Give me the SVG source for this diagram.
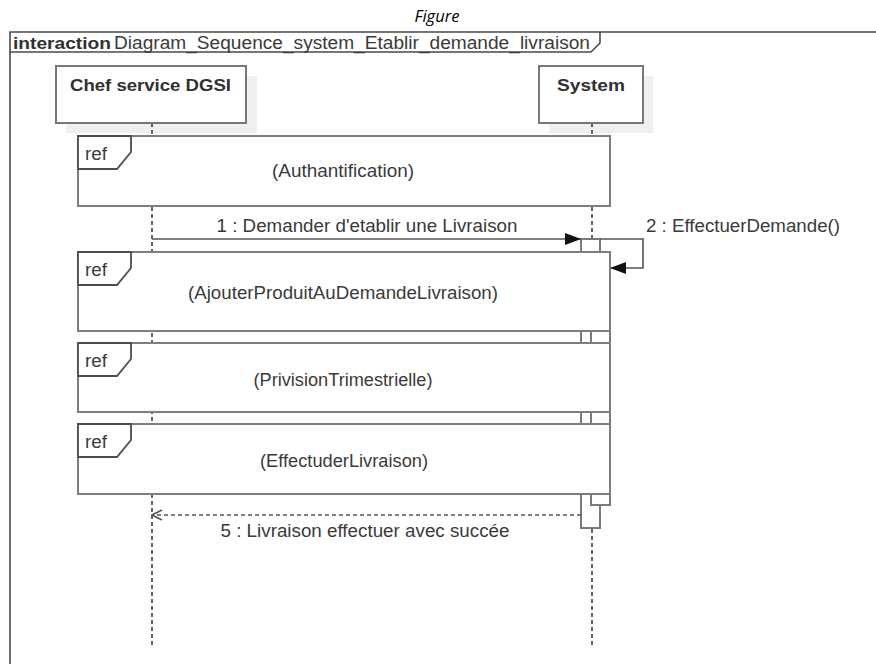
<svg xmlns="http://www.w3.org/2000/svg" width="876" height="664" viewBox="0 0 876 664">
  <defs>
    <style>
      .frame { fill: none; stroke: #4a4a4a; stroke-width: 1.6; }
      .head { fill: #ffffff; stroke: #787878; stroke-width: 2; }
      .shadow { fill: #efefef; stroke: none; }
      .life { stroke: #333333; stroke-width: 1.5; stroke-dasharray: 4 3; fill: none; }
      .act { fill: #ffffff; stroke: #7a7a7a; stroke-width: 2; }
      .ref { fill: #ffffff; stroke: #7e7e7e; stroke-width: 2; }
      .tab { fill: #ffffff; stroke: #4d4d4d; stroke-width: 1.8; }
      .msg { fill: none; stroke: #555555; stroke-width: 1.6; }
      .ret { fill: none; stroke: #555555; stroke-width: 1.6; stroke-dasharray: 4 3; }
      .txt { font-family: "Liberation Sans", Arial, sans-serif; font-size: 17.5px; fill: #3a3a3a; }
      .bold { font-family: "Liberation Sans", Arial, sans-serif; font-size: 17px; font-weight: bold; fill: #303030; }
      .mid { text-anchor: middle; }
    </style>
    <marker id="filled" viewBox="0 0 16 12" refX="16" refY="6" markerWidth="16" markerHeight="12" markerUnits="userSpaceOnUse" orient="auto">
      <path d="M0,0 L16,6 L0,12 Z" fill="#111111"/>
    </marker>
    <marker id="open" viewBox="0 0 12 12" refX="11" refY="6" markerWidth="12" markerHeight="12" markerUnits="userSpaceOnUse" orient="auto">
      <path d="M1,1 L11,6 L1,11" fill="none" stroke="#555555" stroke-width="1.6"/>
    </marker>
  </defs>

  <rect width="876" height="664" fill="#ffffff"/>

  <!-- caption -->
  <text x="437" y="22" text-anchor="middle" font-family="'Open Sans', 'Liberation Sans', sans-serif" font-style="italic" font-size="16.5" fill="#000000">Figure</text>

  <!-- interaction frame -->
  <g id="frame">
    <path class="frame" d="M10,664 L10,32 L876,32"/>
    <path class="frame" d="M600,32 L600,43 L591,52 L10,52"/>
    <text x="13" y="49" class="bold" font-size="18" fill="#222222" textLength="98" lengthAdjust="spacingAndGlyphs">interaction</text>
    <text x="114" y="49" class="txt" font-size="18" fill="#333333" textLength="476" lengthAdjust="spacingAndGlyphs">Diagram_Sequence_system_Etablir_demande_livraison</text>
  </g>

  <!-- lifelines -->
  <g id="lifeline-chef">
    <rect class="shadow" x="66" y="76" width="191" height="57"/>
    <line class="life" x1="152" y1="123" x2="152" y2="648"/>
    <rect class="head" x="56" y="66" width="190" height="57"/>
    <text x="150.5" y="91" class="bold mid" textLength="161" lengthAdjust="spacingAndGlyphs">Chef service DGSI</text>
  </g>

  <g id="lifeline-system">
    <rect class="shadow" x="549" y="76" width="104" height="57"/>
    <line class="life" x1="592" y1="123" x2="592" y2="648"/>
    <rect class="head" x="539" y="66" width="104" height="57"/>
    <text x="591" y="91" class="bold mid" textLength="68" lengthAdjust="spacingAndGlyphs">System</text>
  </g>

  <!-- execution specifications on System -->
  <g id="activations">
    <rect class="act" x="581" y="239" width="19" height="289"/>
    <rect class="act" x="591" y="262" width="19" height="243"/>
  </g>

  <!-- messages -->
  <g id="connectors">
    <line class="msg" x1="152" y1="239" x2="581" y2="239" marker-end="url(#filled)"/>
    <text x="367" y="232" class="txt mid" textLength="301" lengthAdjust="spacingAndGlyphs">1 : Demander d'etablir une Livraison</text>

    <path class="msg" d="M600,239 L643,239 L643,268 L610,268" marker-end="url(#filled)"/>
    <text x="646" y="232" class="txt" textLength="194" lengthAdjust="spacingAndGlyphs">2 : EffectuerDemande()</text>

    <line class="ret" x1="581" y1="515" x2="152" y2="515" marker-end="url(#open)"/>
    <text x="365" y="537" class="txt mid" textLength="289" lengthAdjust="spacingAndGlyphs">5 : Livraison effectuer avec succée</text>
  </g>

  <!-- interaction uses -->
  <g id="ref-authantification">
    <rect class="ref" x="78" y="136" width="532" height="70"/>
    <path class="tab" d="M78,136 L131,136 L131,152 L117,169 L78,169 Z"/>
    <text x="85" y="160" class="txt" textLength="22" lengthAdjust="spacingAndGlyphs">ref</text>
    <text x="343" y="177" class="txt mid" textLength="142" lengthAdjust="spacingAndGlyphs">(Authantification)</text>
  </g>

  <g id="ref-ajouter">
    <rect class="ref" x="78" y="252" width="532" height="79"/>
    <path class="tab" d="M78,252 L131,252 L131,268 L117,285 L78,285 Z"/>
    <text x="85" y="276" class="txt" textLength="22" lengthAdjust="spacingAndGlyphs">ref</text>
    <text x="343" y="299" class="txt mid" textLength="310" lengthAdjust="spacingAndGlyphs">(AjouterProduitAuDemandeLivraison)</text>
  </g>

  <g id="ref-privision">
    <rect class="ref" x="78" y="343" width="532" height="69"/>
    <path class="tab" d="M78,343 L131,343 L131,359 L117,376 L78,376 Z"/>
    <text x="85" y="367" class="txt" textLength="22" lengthAdjust="spacingAndGlyphs">ref</text>
    <text x="343" y="386" class="txt mid" textLength="179" lengthAdjust="spacingAndGlyphs">(PrivisionTrimestrielle)</text>
  </g>

  <g id="ref-effectuder">
    <rect class="ref" x="78" y="424" width="532" height="70"/>
    <path class="tab" d="M78,424 L131,424 L131,440 L117,457 L78,457 Z"/>
    <text x="85" y="448" class="txt" textLength="22" lengthAdjust="spacingAndGlyphs">ref</text>
    <text x="344" y="467" class="txt mid" textLength="168" lengthAdjust="spacingAndGlyphs">(EffectuderLivraison)</text>
  </g>
</svg>
